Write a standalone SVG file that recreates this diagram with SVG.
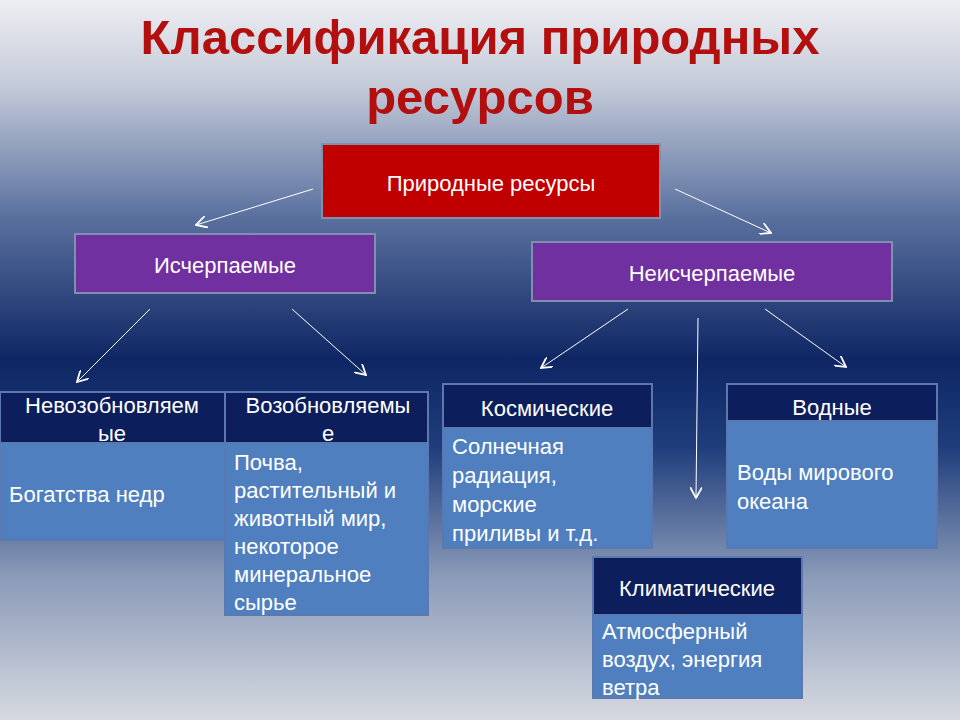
<svg xmlns="http://www.w3.org/2000/svg" width="960" height="720" viewBox="0 0 960 720">
<defs>
<linearGradient id="bg" x1="0" y1="0" x2="0" y2="1">
<stop offset="0" stop-color="#eeeef3"/>
<stop offset="0.12" stop-color="#c4cad8"/>
<stop offset="0.3" stop-color="#5a719f"/>
<stop offset="0.5" stop-color="#0e2664"/>
<stop offset="0.62" stop-color="#1f3d7c"/>
<stop offset="0.8" stop-color="#8a9ab8"/>
<stop offset="1" stop-color="#d6d9e0"/>
</linearGradient>
<marker id="ah" viewBox="0 0 10 10" refX="9" refY="5" markerWidth="12" markerHeight="12" markerUnits="userSpaceOnUse" orient="auto">
<path d="M0,0 L9,5 L0,10" fill="none" stroke="#fff" stroke-width="1.5"/>
</marker>
<style>
text{font-family:"Liberation Sans",Arial,sans-serif;fill:#fff}
.b{stroke:#7f8fae;stroke-width:2}
.h{fill:#0c1f5c;stroke:#5b79b0;stroke-width:2}
.d{fill:#4f7fbf;stroke:#5b79b0;stroke-width:2}
.t{font-size:22px;text-anchor:middle}
.l{font-size:22px}
</style>
</defs>
<rect width="960" height="720" fill="url(#bg)"/>
<g id="title" font-weight="bold">
<text x="480" y="54" font-size="49" text-anchor="middle" style="fill:#b30f0f">Классификация природных</text>
<text x="480" y="114" font-size="49" text-anchor="middle" style="fill:#b30f0f">ресурсов</text>
</g>
<g id="connectors" stroke="#fff" stroke-width="1" marker-end="url(#ah)">
<line x1="313" y1="189" x2="196" y2="225"/>
<line x1="675" y1="189" x2="771" y2="233"/>
<line x1="150" y1="309" x2="77" y2="382"/>
<line x1="292" y1="309" x2="366" y2="375"/>
<line x1="628" y1="309" x2="541" y2="368"/>
<line x1="698" y1="318" x2="696" y2="498"/>
<line x1="765" y1="309" x2="846" y2="367"/>
</g>
<g id="root"><rect class="b" x="322" y="144" width="338" height="74" fill="#c00000"/><text class="t" x="491" y="191">Природные ресурсы</text></g>
<g id="isch"><rect class="b" x="75" y="234" width="300" height="59" fill="#7030a0"/><text class="t" x="225" y="273">Исчерпаемые</text></g>
<g id="neisch"><rect class="b" x="532" y="242" width="360" height="59" fill="#7030a0"/><text class="t" x="712" y="281">Неисчерпаемые</text></g>
<g id="nevoz"><rect class="d" x="0" y="443" width="225" height="97"/><rect class="h" x="0" y="392" width="225" height="51"/>
<text class="t" x="112" y="413">Невозобновляем</text><text class="t" x="112" y="441">ые</text>
<text class="l" x="9" y="502">Богатства недр</text></g>
<g id="voz"><rect class="d" x="225" y="443" width="203" height="172"/><rect class="h" x="225" y="392" width="203" height="51"/>
<text class="t" x="328" y="413">Возобновляемы</text><text class="t" x="328" y="441">е</text>
<text class="l" x="234" y="470">Почва,</text><text class="l" x="234" y="498">растительный и</text><text class="l" x="234" y="526">животный мир,</text><text class="l" x="234" y="554">некоторое</text><text class="l" x="234" y="582">минеральное</text><text class="l" x="234" y="610">сырье</text></g>
<g id="kosm"><rect class="d" x="443" y="428" width="209" height="120"/><rect class="h" x="443" y="384" width="209" height="44"/>
<text class="t" x="547" y="416">Космические</text>
<text class="l" x="452" y="454">Солнечная</text><text class="l" x="452" y="483">радиация,</text><text class="l" x="452" y="512">морские</text><text class="l" x="452" y="541">приливы и т.д.</text></g>
<g id="vodn"><rect class="d" x="727" y="421" width="210" height="127"/><rect class="h" x="727" y="384" width="210" height="37"/>
<text class="t" x="832" y="415">Водные</text>
<text class="l" x="737" y="480">Воды мирового</text><text class="l" x="737" y="509">океана</text></g>
<g id="klim"><rect class="d" x="593" y="615" width="209" height="83"/><rect class="h" x="593" y="557" width="209" height="58"/>
<text class="t" x="697" y="596">Климатические</text>
<text class="l" x="602" y="639">Атмосферный</text><text class="l" x="602" y="667">воздух, энергия</text><text class="l" x="602" y="695">ветра</text></g>
</svg>
